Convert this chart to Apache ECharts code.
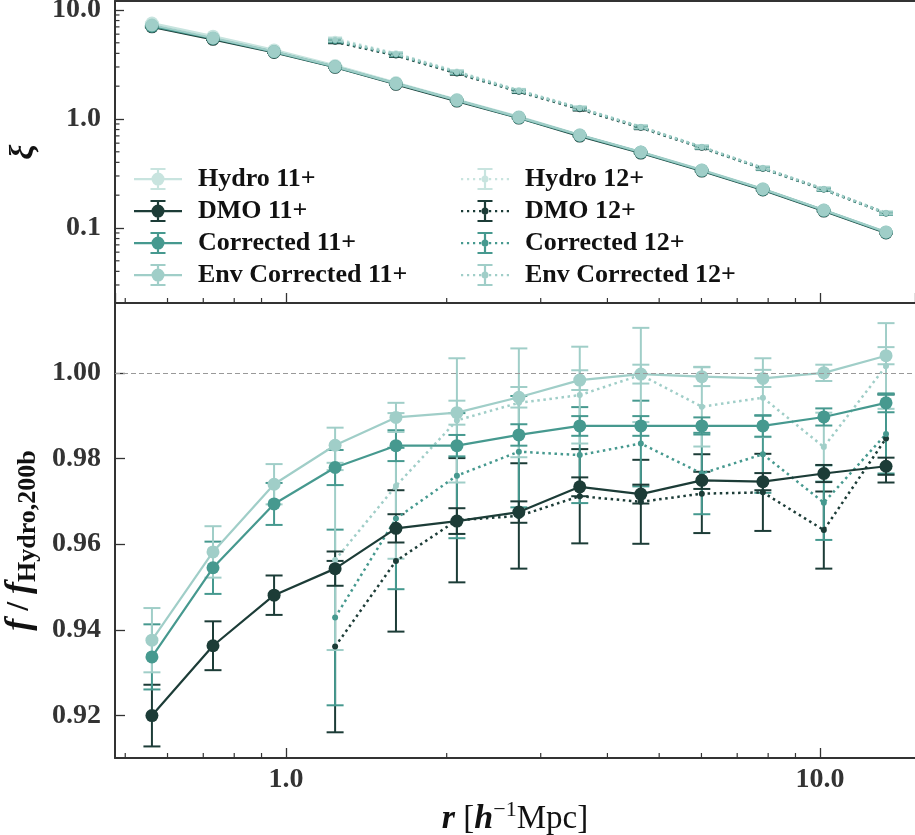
<!DOCTYPE html>
<html><head><meta charset="utf-8">
<script src="https://cdn.jsdelivr.net/npm/echarts@6/dist/echarts.min.js"></script>
<style>html,body{margin:0;padding:0;background:#fff;} #c{width:915px;height:835px;}</style>
</head><body><div id="c"></div>
<script>
// ---------- data ----------
const r11 = [0.561, 0.730, 0.950, 1.236, 1.607, 2.09, 2.73, 3.55, 4.62, 6.01, 7.82, 10.17, 13.3];
const r12 = [1.236, 1.607, 2.09, 2.73, 3.55, 4.62, 6.01, 7.82, 10.17, 13.3];

const xiHydro11 = [7.6, 5.75, 4.3, 3.1, 2.16, 1.51, 1.05, 0.716, 0.499, 0.341, 0.229, 0.146, 0.092];
const xiDMO11   = [7.0, 5.38, 4.08, 2.98, 2.08, 1.46, 1.02, 0.697, 0.487, 0.333, 0.223, 0.143, 0.090];
const xiCor11   = [7.1, 5.48, 4.13, 3.01, 2.11, 1.48, 1.03, 0.707, 0.494, 0.337, 0.226, 0.145, 0.091];
const xiEnv11   = [7.28, 5.53, 4.16, 3.03, 2.12, 1.49, 1.04, 0.713, 0.498, 0.340, 0.228, 0.146, 0.092];
const xiErr11   = [0.10, 0.07, 0.045, 0.03, 0.02, 0.014, 0.009, 0.006, 0.004, 0.003, 0.002, 0.0013, 0.0009];

const xiHydro12 = [5.45, 4.0, 2.73, 1.84, 1.27, 0.85, 0.556, 0.357, 0.229, 0.138];
const xiDMO12   = [5.1, 3.82, 2.62, 1.78, 1.23, 0.83, 0.545, 0.350, 0.225, 0.136];
const xiCor12   = [5.2, 3.88, 2.66, 1.80, 1.25, 0.84, 0.550, 0.352, 0.226, 0.136];
const xiEnv12   = [5.31, 3.95, 2.70, 1.82, 1.26, 0.845, 0.554, 0.355, 0.228, 0.137];
const xiErr12   = [0.15, 0.11, 0.075, 0.05, 0.035, 0.024, 0.016, 0.010, 0.0065, 0.004];

const fDMO11 = [0.9200, 0.9363, 0.9481, 0.9543, 0.9637, 0.9654, 0.9675, 0.9734, 0.9717, 0.9749, 0.9746, 0.9765, 0.9782];
const fCor11 = [0.9337, 0.9545, 0.9694, 0.9779, 0.9830, 0.9830, 0.9855, 0.9876, 0.9876, 0.9876, 0.9876, 0.9897, 0.9930];
const fEnv11 = [0.9376, 0.9582, 0.9740, 0.9831, 0.9896, 0.9907, 0.9943, 0.9983, 0.9997, 0.9991, 0.9987, 1.0000, 1.0040];
const eDMO11 = [0.0072, 0.0057, 0.0046, 0.0040, 0.0033, 0.0030, 0.0025, 0.0022, 0.0022, 0.0020, 0.0020, 0.0020, 0.0020];
const eCor11 = [0.0076, 0.0061, 0.0049, 0.0041, 0.0036, 0.0025, 0.0025, 0.0023, 0.0023, 0.0020, 0.0025, 0.0020, 0.0022];
const eEnv11 = [0.0075, 0.0060, 0.0047, 0.0041, 0.0034, 0.0028, 0.0024, 0.0023, 0.0022, 0.0022, 0.0020, 0.0019, 0.0020];

const fDMO12 = [0.9361, 0.9561, 0.9656, 0.9666, 0.9712, 0.9699, 0.9718, 0.9721, 0.9633, 0.9847];
const fCor12 = [0.9429, 0.9660, 0.9760, 0.9816, 0.9808, 0.9835, 0.9765, 0.9810, 0.9697, 0.9857];
const fEnv12 = [0.9563, 0.9736, 0.9889, 0.9930, 0.9948, 0.9995, 0.9921, 0.9942, 0.9827, 1.0016];
const eDMO12 = [0.0200, 0.0165, 0.0145, 0.0123, 0.0110, 0.0098, 0.0092, 0.0090, 0.0090, 0.0103];
const eCor12 = [0.0205, 0.0165, 0.0146, 0.0130, 0.0112, 0.0100, 0.0095, 0.0090, 0.0087, 0.0092];
const eEnv12 = [0.0210, 0.0170, 0.0145, 0.0127, 0.0113, 0.0110, 0.0093, 0.0092, 0.0080, 0.0100];

const names11 = ['Hydro 11+', 'DMO 11+', 'Corrected 11+', 'Env Corrected 11+'];
const names12 = ['Hydro 12+', 'DMO 12+', 'Corrected 12+', 'Env Corrected 12+'];

const xMinorTicks = [0.5, 0.6, 0.7, 0.8, 0.9, 2, 3, 4, 5, 6, 7, 8, 9];
const yTopMinorTicks = [0.03, 0.04, 0.05, 0.06, 0.07, 0.08, 0.09, 0.2, 0.3, 0.4, 0.5, 0.6, 0.7, 0.8, 0.9, 2, 3, 4, 5, 6, 7, 8, 9];

// ---------- style ----------
const COL = {hydro:'#c8e4df', dmo:'#1c3c37', cor:'#46998f', env:'#a0cec8'};
const X_MIN = 0.4784, X_MAX = 15.07;
const YT_MIN = 0.0205, YT_MAX = 12.09;
const YB_MIN = 0.9101, YB_MAX = 1.0163;
const SERIF = 'Liberation Serif';
const AX = '#333';

function pairs(xs, ys){ return xs.map((x,i)=>[x, ys[i]]); }
function triples(xs, ys, es){ return xs.map((x,i)=>[x, ys[i], es[i]]); }

function errSeries(xs, ys, es, color, g, cap, lw){
  return {type:'custom', xAxisIndex:g, yAxisIndex:g, coordinateSystem:'cartesian2d', silent:true, clip:false,
    data: triples(xs, ys, es), encode:{x:0, y:1}, animation:false,
    renderItem(params, api){
      const x = api.value(0), y = api.value(1), e = api.value(2);
      const lo = api.coord([x, y - e]), hi = api.coord([x, y + e]);
      const st = {stroke:color, lineWidth:lw};
      return {type:'group', children:[
        {type:'line', shape:{x1:lo[0], y1:lo[1], x2:hi[0], y2:hi[1]}, style:st},
        {type:'line', shape:{x1:lo[0]-cap, y1:lo[1], x2:lo[0]+cap, y2:lo[1]}, style:st},
        {type:'line', shape:{x1:hi[0]-cap, y1:hi[1], x2:hi[0]+cap, y2:hi[1]}, style:st}
      ]};
    }};
}
function lineSeries(name, xs, ys, color, g, dotted, size, lw){
  return {type:'line', name, xAxisIndex:g, yAxisIndex:g, data:pairs(xs, ys),
    symbol:'circle', symbolSize:size, showSymbol:true, silent:true, clip:false, animation:false,
    itemStyle:{color}, lineStyle:{color, width:lw, type: dotted ? [2.5, 3.6] : 'solid', cap:'butt'},
    emphasis:{disabled:true}};
}
function tickSeries(vals, g, dir, base, len){
  return {type:'custom', xAxisIndex:g, yAxisIndex:g, coordinateSystem:'cartesian2d', silent:true, clip:false, z:5,
    data: vals.map(v => dir === 'x' ? [v, base] : [base, v]), encode:{x:0, y:1}, animation:false,
    renderItem(params, api){
      const p = api.coord([api.value(0), api.value(1)]);
      const sh = dir === 'x' ? {x1:p[0], y1:p[1], x2:p[0], y2:p[1]-len} : {x1:p[0], y1:p[1], x2:p[0]+len, y2:p[1]};
      return {type:'line', shape:sh, style:{stroke:AX, lineWidth:1.2}};
    }};
}

const series = [];
// top panel
const top11 = [[xiHydro11, COL.hydro], [xiDMO11, COL.dmo], [xiCor11, COL.cor], [xiEnv11, COL.env]];
top11.forEach(([ys, c], i) => {
  series.push(errSeries(r11, ys, xiErr11, c, 0, 7, 2));
  series.push(lineSeries(names11[i], r11, ys, c, 0, false, 13, 2.2));
});
const top12 = [[xiHydro12, COL.hydro], [xiDMO12, COL.dmo], [xiCor12, COL.cor], [xiEnv12, COL.env]];
top12.forEach(([ys, c], i) => {
  series.push(errSeries(r12, ys, xiErr12, c, 0, 7, 2));
  series.push(lineSeries(names12[i], r12, ys, c, 0, true, 6, 2.5));
});
// bottom panel: 12+ first, then 11+
const bot12 = [[fDMO12, eDMO12, COL.dmo, 1], [fCor12, eCor12, COL.cor, 2], [fEnv12, eEnv12, COL.env, 3]];
bot12.forEach(([ys, es, c, k]) => {
  series.push(errSeries(r12, ys, es, c, 1, 8.5, 2));
  series.push(lineSeries(names12[k], r12, ys, c, 1, true, 6, 2.5));
});
const bot11 = [[fDMO11, eDMO11, COL.dmo, 1], [fCor11, eCor11, COL.cor, 2], [fEnv11, eEnv11, COL.env, 3]];
bot11.forEach(([ys, es, c, k]) => {
  series.push(errSeries(r11, ys, es, c, 1, 8.5, 2));
  series.push(lineSeries(names11[k], r11, ys, c, 1, false, 13, 2.2));
});
// reference line at 1
series.push({type:'line', xAxisIndex:1, yAxisIndex:1, data:[], silent:true, animation:false,
  markLine:{silent:true, symbol:'none', label:{show:false}, animation:false,
    lineStyle:{color:'#999', width:1, type:[5, 3]}, data:[{yAxis:1}]}, z:1});
// minor ticks
series.push(tickSeries(xMinorTicks, 0, 'x', YT_MIN, 5));
series.push(tickSeries(xMinorTicks, 1, 'x', YB_MIN, 5));
series.push(tickSeries(yTopMinorTicks, 0, 'y', X_MIN, 4.5));

// legend icons
const SOLID = 'path://M0 10H48V12.2H0Z M22.9 0H25.1V22H22.9Z M16.5 0H31.5V2H16.5Z M16.5 20H31.5V22H16.5Z M17.5 11.1A6.5 6.5 0 1 1 30.5 11.1A6.5 6.5 0 1 1 17.5 11.1Z';
const DOTTED = 'path://M0 10H2.2V12.2H0Z M6 10H8.2V12.2H6Z M12 10H14.2V12.2H12Z M18 10H20.2V12.2H18Z M28 10H30.2V12.2H28Z M34 10H36.2V12.2H34Z M40 10H42.2V12.2H40Z M45.8 10H48V12.2H45.8Z M22.9 0H25.1V22H22.9Z M16.5 0H31.5V2H16.5Z M16.5 20H31.5V22H16.5Z M20.5 11.1A3.5 3.5 0 1 1 27.5 11.1A3.5 3.5 0 1 1 20.5 11.1Z';
const legCols = [COL.hydro, COL.dmo, COL.cor, COL.env];
const legText = {fontFamily:SERIF, fontWeight:'bold', fontSize:26, color:'#111', padding:[0,0,0,11], lineHeight:22};
function legend(names, left, icon){
  return {orient:'vertical', left, top:166, itemWidth:48, itemHeight:22, itemGap:6, selectedMode:false, padding:0,
    textStyle:legText, data: names.map((n,i)=>({name:n, icon, itemStyle:{color:legCols[i], borderWidth:0}}))};
}

const tickLbl = {fontFamily:SERIF, fontWeight:'bold', fontSize:28, color:AX};
const logFmt = v => Number(v).toFixed(1);
const spine = {show:true, onZero:false, lineStyle:{color:AX, width:2}};

const option = {
  animation:false,
  backgroundColor:'#fff',
  grid:[
    {left:115, top:1, right:0, height:302, show:false, outerBoundsMode:'none', containLabel:false},
    {left:115, top:303, right:0, height:455, show:false, outerBoundsMode:'none', containLabel:false}
  ],
  legend:[legend(names11, 134, SOLID), legend(names12, 461, DOTTED)],
  xAxis:[
    {type:'log', logBase:10, gridIndex:0, min:X_MIN, max:X_MAX,
     axisLine:spine, axisTick:{inside:true, length:10, lineStyle:{color:AX, width:1.3}},
     axisLabel:{show:false}, splitLine:{show:false}},
    {type:'log', logBase:10, gridIndex:1, min:X_MIN, max:X_MAX,
     axisLine:spine, axisTick:{inside:true, length:10, lineStyle:{color:AX, width:1.3}},
     axisLabel:Object.assign({formatter:logFmt, margin:8, showMinLabel:false, showMaxLabel:false}, tickLbl),
     splitLine:{show:false},
     name:'{i|r}{n| [}{i|h}{sup|−1}{n|Mpc]}', nameLocation:'middle', nameGap:33,
     nameTextStyle:{rich:{
       i:{fontFamily:SERIF, fontStyle:'italic', fontWeight:'bold', fontSize:34, color:'#111', lineHeight:40, verticalAlign:'middle'},
       n:{fontFamily:SERIF, fontSize:33, color:'#111', lineHeight:40, verticalAlign:'middle'},
       sup:{fontFamily:SERIF, fontSize:22, color:'#111', lineHeight:24, verticalAlign:'top'}
     }}},
    {type:'log', logBase:10, gridIndex:0, position:'top', min:X_MIN, max:X_MAX,
     axisLine:spine, axisTick:{show:false}, axisLabel:{show:false}, splitLine:{show:false}}
  ],
  yAxis:[
    {type:'log', logBase:10, gridIndex:0, min:YT_MIN, max:YT_MAX,
     axisLine:spine, axisTick:{inside:true, length:9, lineStyle:{color:AX, width:1.3}},
     axisLabel:Object.assign({formatter:logFmt, margin:14, showMinLabel:false, showMaxLabel:false}, tickLbl),
     splitLine:{show:false},
     name:'ξ', nameLocation:'middle', nameGap:72, nameRotate:90,
     nameTextStyle:{fontFamily:SERIF, fontStyle:'italic', fontWeight:'bold', fontSize:34, color:'#111'}},
    {type:'value', gridIndex:1, min:YB_MIN, max:YB_MAX, splitNumber:5,
     axisLine:spine, axisTick:{inside:true, length:10, lineStyle:{color:AX, width:1.3}},
     axisLabel:Object.assign({formatter:v => Number(v).toFixed(2), margin:14, showMinLabel:false, showMaxLabel:false}, tickLbl),
     splitLine:{show:false},
     name:'{i|f}{n| / }{i|f}{s|Hydro,200b}', nameLocation:'middle', nameGap:68, nameRotate:90,
     nameTextStyle:{rich:{
       i:{fontFamily:SERIF, fontStyle:'italic', fontWeight:'bold', fontSize:36, color:'#111', lineHeight:42, verticalAlign:'middle'},
       n:{fontFamily:SERIF, fontWeight:'bold', fontSize:32, color:'#111', lineHeight:42, verticalAlign:'middle'},
       s:{fontFamily:SERIF, fontWeight:'bold', fontSize:26, color:'#111', lineHeight:26, verticalAlign:'bottom', padding:[0,20,0,0]}
     }}}
  ],
  series
};

const chart = echarts.init(document.getElementById('c'), null, {renderer:'canvas'});
chart.setOption(option);
</script>
</body></html>
